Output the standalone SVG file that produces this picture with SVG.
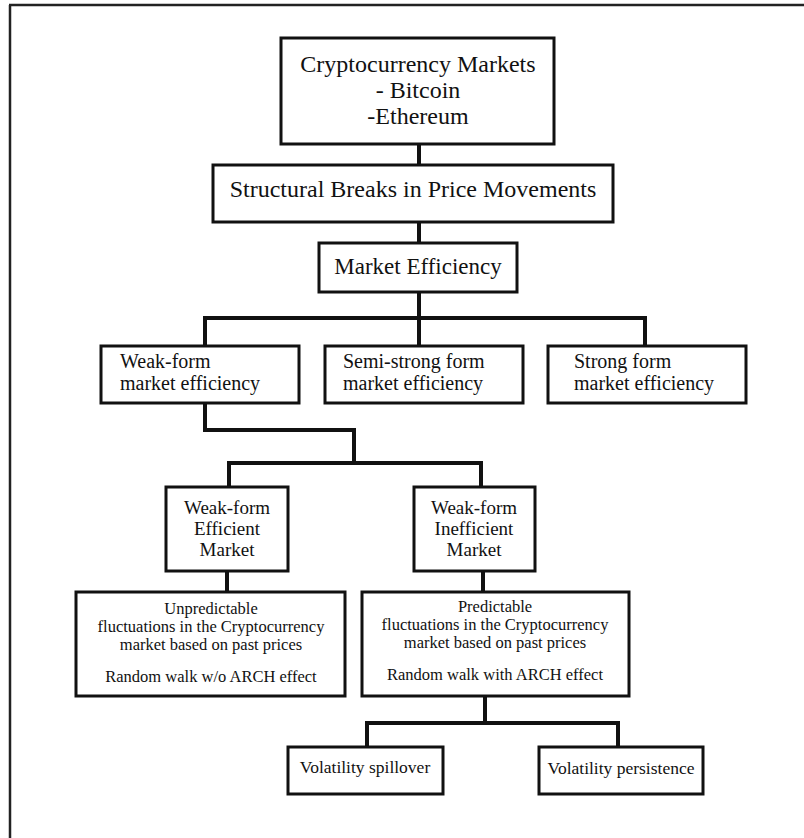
<svg xmlns="http://www.w3.org/2000/svg" width="804" height="838" viewBox="0 0 804 838">
<style>
.box{fill:#fff;stroke:#111;stroke-width:3}
.c{fill:none;stroke:#111;stroke-width:4;stroke-linecap:square;stroke-linejoin:miter}
text{font-family:"Liberation Serif","Times New Roman",serif;fill:#111}
.m{text-anchor:middle}
.f24{font-size:24px}
.f20{font-size:20px}
.f19{font-size:19px}
.f16{font-size:16.5px}
</style>
<rect width="804" height="838" fill="#fff"/>
<g id="frame">
<path d="M9 5 H804 M10 5 V838" fill="none" stroke="#222" stroke-width="2.5"/>
</g>
<g id="connectors">
<path class="c" d="M419 144 V165"/>
<path class="c" d="M419 222 V243"/>
<path class="c" d="M419 292 V346 M205 318 H645 M205 318 V346 M645 318 V346"/>
<path class="c" d="M205 403 V430 H354 V463 M229 463 H481 M229 463 V487 M481 463 V487"/>
<path class="c" d="M227 571 V592"/>
<path class="c" d="M483 571 V592"/>
<path class="c" d="M485 696 V723 M367 723 H618 M367 723 V747 M618 723 V747"/>
</g>
<g id="crypto">
<rect class="box" x="281" y="38" width="273" height="106"/>
<text class="m f24" x="418" y="72">Cryptocurrency Markets</text>
<text class="m f24" x="418" y="98">- Bitcoin</text>
<text class="m f24" x="418" y="124">-Ethereum</text>
</g>
<g id="breaks">
<rect class="box" x="213" y="165" width="400" height="57"/>
<text class="m f24" x="413" y="197">Structural Breaks in Price Movements</text>
</g>
<g id="efficiency">
<rect class="box" x="319" y="243" width="198" height="49"/>
<text class="m" style="font-size:23px" x="418" y="274">Market Efficiency</text>
</g>
<g id="weak">
<rect class="box" x="101" y="346" width="198" height="57"/>
<text class="f20" x="120" y="368">Weak-form</text>
<text class="f20" x="120" y="390">market efficiency</text>
</g>
<g id="semi">
<rect class="box" x="325" y="346" width="198" height="57"/>
<text class="f20" x="343" y="368">Semi-strong form</text>
<text class="f20" x="343" y="390">market efficiency</text>
</g>
<g id="strong">
<rect class="box" x="548" y="346" width="198" height="57"/>
<text class="f20" x="574" y="368">Strong form</text>
<text class="f20" x="574" y="390">market efficiency</text>
</g>
<g id="weak-efficient">
<rect class="box" x="166" y="487" width="122" height="84"/>
<text class="m f19" x="227" y="514">Weak-form</text>
<text class="m f19" x="227" y="535">Efficient</text>
<text class="m f19" x="227" y="556">Market</text>
</g>
<g id="weak-inefficient">
<rect class="box" x="414" y="487" width="121" height="84"/>
<text class="m f19" x="474" y="514">Weak-form</text>
<text class="m f19" x="474" y="535">Inefficient</text>
<text class="m f19" x="474" y="556">Market</text>
</g>
<g id="unpredictable">
<rect class="box" x="76" y="592" width="269" height="104"/>
<text class="m f16" x="211" y="614">Unpredictable</text>
<text class="m f16" x="211" y="632">fluctuations in the Cryptocurrency</text>
<text class="m f16" x="211" y="650">market based on past prices</text>
<text class="m f16" x="211" y="682">Random walk w/o ARCH effect</text>
</g>
<g id="predictable">
<rect class="box" x="362" y="592" width="267" height="104"/>
<text class="m f16" x="495" y="612">Predictable</text>
<text class="m f16" x="495" y="630">fluctuations in the Cryptocurrency</text>
<text class="m f16" x="495" y="648">market based on past prices</text>
<text class="m f16" x="495" y="680">Random walk with ARCH effect</text>
</g>
<g id="spillover">
<rect class="box" x="288" y="747" width="155" height="47"/>
<text class="m" style="font-size:17.5px" x="365" y="773">Volatility spillover</text>
</g>
<g id="persistence">
<rect class="box" x="539" y="747" width="164" height="47"/>
<text class="m" style="font-size:17.5px" x="621" y="774">Volatility persistence</text>
</g>
</svg>
